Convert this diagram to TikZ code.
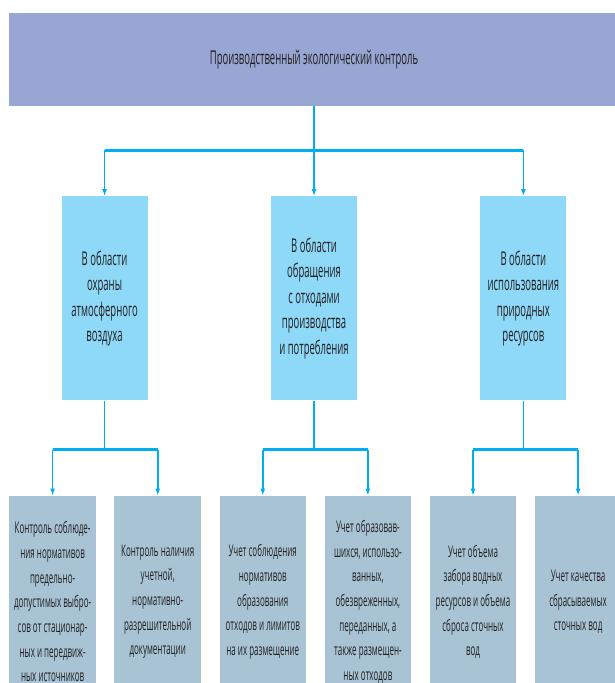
\documentclass[tikz,border=0pt]{standalone}
\usepackage{fontspec}
\setmainfont{Open Sans}[FakeStretch=0.5]
\usetikzlibrary{arrows.meta}
\usetikzlibrary{positioning}

\definecolor{headblue}{HTML}{98A6D3}
\definecolor{areablue}{HTML}{8ED8F8}
\definecolor{taskblue}{HTML}{A8C4D4}
\definecolor{lineblue}{HTML}{00AEEF}
\definecolor{ink}{HTML}{231F20}

\begin{document}
\begin{tikzpicture}[x=1pt,y=1pt]
	\tikzstyle{every node}=[inner sep=0pt,text=ink,align=center]
	\tikzstyle{headbox}=[fill=headblue,minimum width=610pt,minimum height=93pt,font=\fontsize{19}{25.5}\selectfont]
	\tikzstyle{areabox}=[fill=areablue,minimum width=86pt,minimum height=204pt,font=\fontsize{19}{25.5}\selectfont]
	\tikzstyle{taskbox}=[fill=taskblue,minimum width=86.5pt,minimum height=212pt,font=\fontsize{16}{24.7}\selectfont]
	\tikzstyle{arrow}=[draw=lineblue,line width=1.7pt,-{Latex[length=7pt,width=5pt]}]
	\tikzstyle{bar}=[draw=lineblue,line width=3.4pt]

	\useasboundingbox (0,0) rectangle (615,-683);
	\clip (0,0) rectangle (615,-683);

	% top level
	\node (ctrl) [headbox] at (314,-59.5) {Производственный экологический контроль};

	% three areas
	\node (waste) [areabox,below=90pt of ctrl] {В области\\обращения\\с отходами\\производства\\и потребления};
	\node (air) [areabox,left=123pt of waste] {В области\\охраны\\атмосферного\\воздуха};
	\node (res) [areabox,right=123pt of waste] {В области\\использования\\природных\\ресурсов};

	% tasks
	\node (a1) [taskbox,below=95pt of air,xshift=-52pt] {Контроль соблюде-\\ния нормативов\\предельно-\\допустимых выбро-\\сов от стационар-\\ных и передвиж-\\ных источников};
	\node (a2) [taskbox,right=18.2pt of a1] {Контроль наличия\\учетной,\\нормативно-\\разрешительной\\документации};
	\node (w1) [taskbox,right=18.2pt of a2] {Учет соблюдения\\нормативов\\образования\\отходов и лимитов\\на их размещение};
	\node (w2) [taskbox,right=18.2pt of w1] {Учет образовав-\\шихся, использо-\\ванных,\\обезвреженных,\\переданных, а\\также размещен-\\ных отходов};
	\node (r1) [taskbox,right=18.2pt of w2] {Учет объема\\забора водных\\ресурсов и объема\\сброса сточных\\вод};
	\node (r2) [taskbox,right=18.2pt of r1] {Учет качества\\сбрасываемых\\сточных вод};

	% bus lines
	\coordinate [below=44pt of ctrl.south] (tbar);
	\coordinate [below=49pt of air.south] (abar);
	\coordinate [below=49pt of waste.south] (wbar);
	\coordinate [below=49pt of res.south] (rbar);

	\draw[bar] (air.north |- tbar) -- (res.north |- tbar);
	\draw[arrow] (ctrl) -- (waste);
	\draw[arrow] (air.north |- tbar) -- (air);
	\draw[arrow] (res.north |- tbar) -- (res);

	\draw[bar] (a1.north |- abar) -- (a2.north |- abar);
	\draw[bar] (w1.north |- wbar) -- (w2.north |- wbar);
	\draw[bar] (r1.north |- rbar) -- (r2.north |- rbar);
	\draw[draw=lineblue,line width=1.7pt] (air) -- (abar) (waste) -- (wbar) (res) -- (rbar);
	\draw[arrow] (a1.north |- abar) -- (a1);
	\draw[arrow] (a2.north |- abar) -- (a2);
	\draw[arrow] (w1.north |- wbar) -- (w1);
	\draw[arrow] (w2.north |- wbar) -- (w2);
	\draw[arrow] (r1.north |- rbar) -- (r1);
	\draw[arrow] (r2.north |- rbar) -- (r2);

\end{tikzpicture}
\end{document}
